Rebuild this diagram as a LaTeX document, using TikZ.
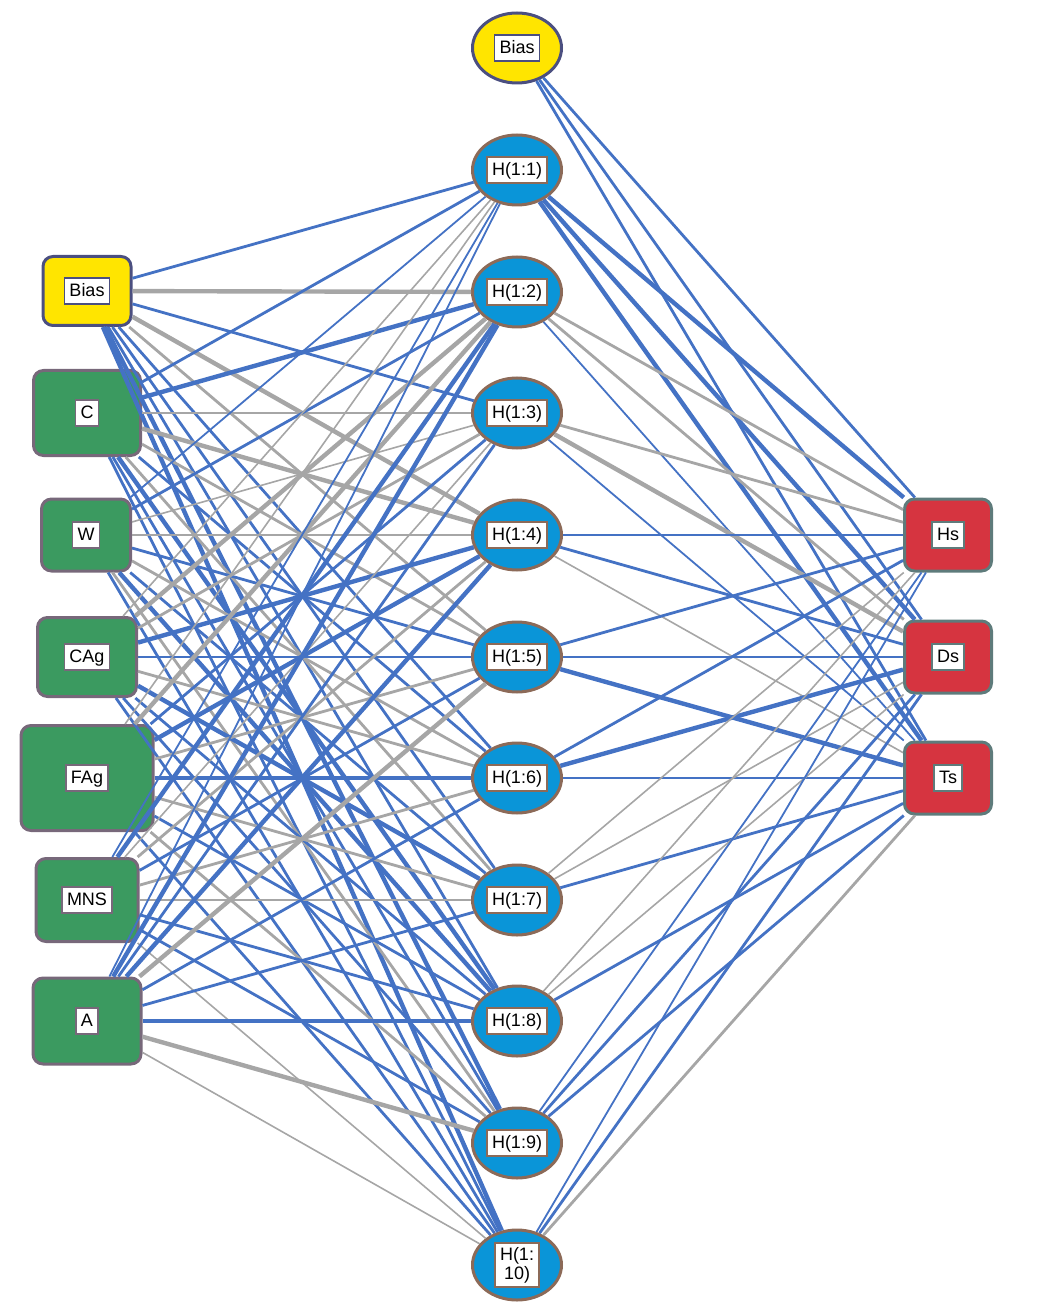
\documentclass[tikz,border=0pt]{standalone}
\usepackage{fontspec}
\setmainfont{Liberation Sans}
\usetikzlibrary{shapes.geometric}
\definecolor{lblue}{HTML}{4472C4}
\definecolor{lgray}{HTML}{A6A6A6}
\definecolor{ingreen}{HTML}{3B9A60}
\definecolor{inborder}{HTML}{77687A}
\definecolor{byellow}{HTML}{FFE500}
\definecolor{bborder}{HTML}{4B4F80}
\definecolor{hblue}{HTML}{0A95D8}
\definecolor{hborder}{HTML}{8C6A58}
\definecolor{outred}{HTML}{D63440}
\definecolor{outborder}{HTML}{5E7B7B}
\begin{document}
\begin{tikzpicture}[x=0.5pt,y=-0.5pt,
  lblbase/.style={draw=#1, fill=white, line width=0.8pt, inner xsep=2.5pt, inner ysep=2pt,
    font=\fontsize{9}{9.5}\selectfont, align=center},
  lbl/.style={lblbase=#1, text height=0.72em, text depth=0.2em},
  inbox/.style={rectangle, rounded corners=5pt, fill=ingreen, draw=inborder, line width=1.5pt, inner sep=0pt},
  biasbox/.style={rectangle, rounded corners=5pt, fill=byellow, draw=bborder, line width=1.5pt, inner sep=0pt},
  hid/.style={ellipse, fill=hblue, draw=hborder, line width=1.5pt, minimum width=44.5pt, minimum height=35pt, inner sep=0pt},
  hbias/.style={ellipse, fill=byellow, draw=bborder, line width=1.5pt, minimum width=44.5pt, minimum height=35pt, inner sep=0pt},
  outbox/.style={rectangle, rounded corners=5pt, fill=outred, draw=outborder, line width=1.5pt, inner sep=0pt, minimum width=43.5pt, minimum height=36pt},
  bt/.style={draw=lblue, line width=0.9pt},
  bm/.style={draw=lblue, line width=1.4pt},
  bk/.style={draw=lblue, line width=2.2pt},
  gt/.style={draw=lgray, line width=0.8pt},
  gm/.style={draw=lgray, line width=1.4pt},
  gk/.style={draw=lgray, line width=2.2pt}]
\useasboundingbox (0,0) rectangle (1040,1315);
% input layer
\node[biasbox, minimum width=44pt, minimum height=34.5pt] (bL) at (87,291) {};
\node[inbox, minimum width=53.5pt, minimum height=42.5pt] (C) at (87,413) {};
\node[inbox, minimum width=44.5pt, minimum height=36pt] (W) at (86,535) {};
\node[inbox, minimum width=49.5pt, minimum height=39.5pt] (CAg) at (87,657) {};
\node[inbox, minimum width=66pt, minimum height=52.5pt] (FAg) at (87,778) {};
\node[inbox, minimum width=51pt, minimum height=41.5pt] (MNS) at (87,900) {};
\node[inbox, minimum width=54pt, minimum height=43pt] (A) at (87,1021) {};
% hidden layer
\node[hbias] (bH) at (517,48) {};
\foreach \k/\y in {1/170,2/292,3/413,4/535,5/657,6/778,7/900,8/1021,9/1143,10/1265}
  \node[hid] (h\k) at (517,\y) {};
% output layer
\node[outbox] (Hs) at (948,535) {};
\node[outbox] (Ds) at (948,657) {};
\node[outbox] (Ts) at (948,778) {};
% input -> hidden connectors
\foreach \s/\t/\st in {
  bL/h1/bm, bL/h2/gk, bL/h3/bm, bL/h4/gk, bL/h5/gm, bL/h6/bm, bL/h7/bm, bL/h8/bm, bL/h9/bk, bL/h10/bk,
  C/h1/bm, C/h2/bk, C/h3/gm, C/h4/gk, C/h5/gm, C/h6/bm, C/h7/gm, C/h8/bk, C/h9/bm, C/h10/bm,
  W/h1/bt, W/h2/bm, W/h3/gt, W/h4/gm, W/h5/bm, W/h6/gm, W/h7/bm, W/h8/bk, W/h9/gm, W/h10/bm,
  CAg/h1/gt, CAg/h2/gk, CAg/h3/gm, CAg/h4/bk, CAg/h5/bm, CAg/h6/gm, CAg/h7/bk, CAg/h8/bm, CAg/h9/bm, CAg/h10/bm,
  FAg/h1/gt, FAg/h2/gk, FAg/h3/bm, FAg/h4/bk, FAg/h5/gm, FAg/h6/bk, FAg/h7/gm, FAg/h8/bm, FAg/h9/gm, FAg/h10/bm,
  MNS/h1/bt, MNS/h2/bk, MNS/h3/gt, MNS/h4/gm, MNS/h5/bm, MNS/h6/gm, MNS/h7/gm, MNS/h8/bm, MNS/h9/bm, MNS/h10/gt,
  A/h1/bt, A/h2/bk, A/h3/bm, A/h4/bk, A/h5/gk, A/h6/bm, A/h7/bm, A/h8/bk, A/h9/gk, A/h10/gt}
  \draw[\st] (\s) -- (\t);
% hidden -> output connectors
\foreach \s/\t/\st in {
  bH/Hs/bm, bH/Ds/bm, bH/Ts/bm,
  h1/Hs/bk, h1/Ds/bk, h1/Ts/bk,
  h2/Hs/gm, h2/Ds/gm, h2/Ts/bt,
  h3/Hs/gm, h3/Ds/gk, h3/Ts/bt,
  h4/Hs/bm, h4/Ds/bm, h4/Ts/gt,
  h5/Hs/bm, h5/Ds/bm, h5/Ts/bk,
  h6/Hs/bm, h6/Ds/bk, h6/Ts/bm,
  h7/Hs/gt, h7/Ds/gt, h7/Ts/bm,
  h8/Hs/gt, h8/Ds/gt, h8/Ts/bm,
  h9/Hs/bt, h9/Ds/bm, h9/Ts/bm,
  h10/Hs/bt, h10/Ds/bm, h10/Ts/gm}
  \draw[\st] (\s) -- (\t);
% labels
\node[lbl=bborder] (bLl) at (bL) {Bias};
\node[lbl=inborder] (Cl) at (C) {C};
\node[lbl=inborder] (Wl) at (W) {W};
\node[lbl=inborder] (CAgl) at (CAg) {CAg};
\node[lbl=inborder] (FAgl) at (FAg) {FAg};
\node[lbl=inborder] (MNSl) at (MNS) {MNS};
\node[lbl=inborder] (Al) at (A) {A};
\node[lbl=bborder] (bHl) at (bH) {Bias};
\foreach \k in {1,...,9}
  \node[lbl=hborder] (h\k l) at (h\k) {H(1:\k)};
\node[lblbase=hborder] (h10l) at (h10) {H(1:\\10)};
\node[lbl=outborder] (Hsl) at (Hs) {Hs};
\node[lbl=outborder] (Dsl) at (Ds) {Ds};
\node[lbl=outborder] (Tsl) at (Ts) {Ts};
\end{tikzpicture}
\end{document}
